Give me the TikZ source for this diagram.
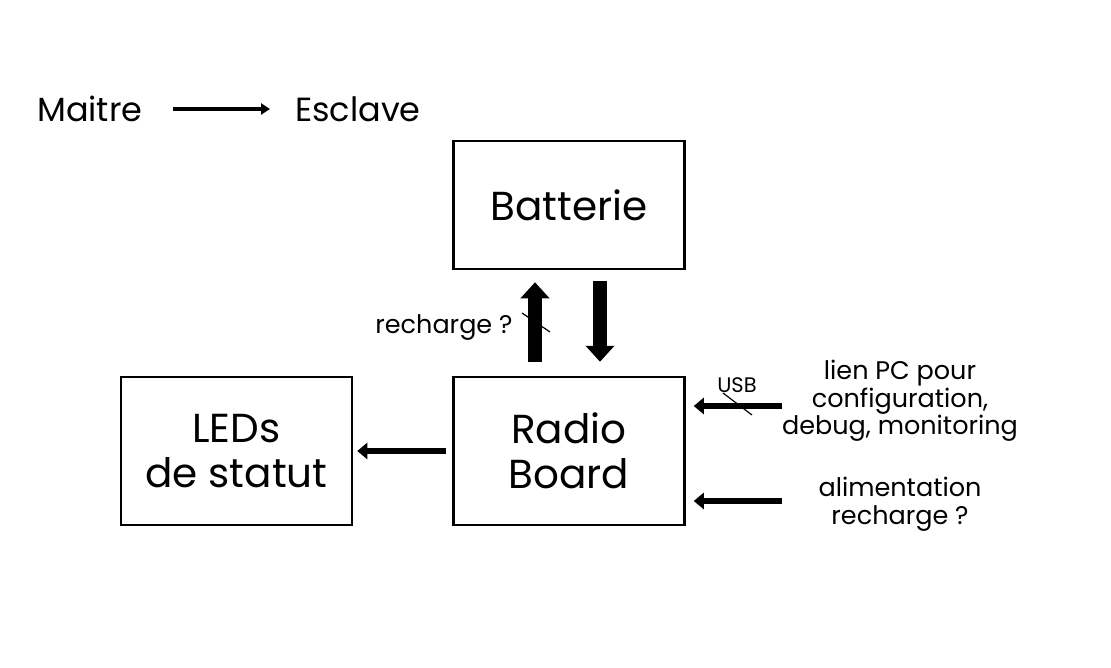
\documentclass[tikz,border=0pt]{standalone}
\usepackage{fontspec}
\setmainfont{Poppins}
\usetikzlibrary{
  arrows.meta,
  positioning,
}
\tikzset{
  bloc/.style={rectangle,draw,line width=2.5pt,minimum width=231,minimum height=148,align=center,font=\fontsize{40.5}{45}\selectfont},
  grosse/.style={-{Triangle[width=28pt,length=16pt]},line width=14pt},
  fleche/.style={-{Triangle[width=16pt,length=10pt]},line width=5.5pt},
  legende/.style={-{Triangle[width=11pt,length=9pt]},line width=4pt},
  petit/.style={align=center,font=\fontsize{25.5}{27.5}\selectfont},
}

\begin{document}
\begin{tikzpicture}[x=1pt,y=-1pt,node distance=106 and 99]
        \useasboundingbox (0,0) rectangle (1111,667);

        % legende
        \node[anchor=west,inner sep=0,font=\fontsize{33.5}{36}\selectfont] (maitre) at (37,109) {Maitre};
        \node[anchor=west,inner sep=0,font=\fontsize{33.5}{36}\selectfont] (esclave) at (295,109) {Esclave};
        \draw[legende,shorten <=30,shorten >=25] (maitre.east) -- (esclave.west);

        % blocs
        \node[bloc,minimum height=128] (batterie) at (569,205) {Batterie};
        \node[bloc] (radio) at (569,451) {Radio\\Board};
        \node[bloc] (leds) [left=of radio] {LEDs\\de statut};

        \draw[grosse,shorten <=14,shorten >=12] ([xshift=-34]radio.north) -- ([xshift=-34]batterie.south);
        \draw[grosse,shorten <=11,shorten >=14] ([xshift=31]batterie.south) -- ([xshift=31]radio.north);
        \node[petit,anchor=east] (recharge) at (516,328) {recharge ?};
        \draw[line width=1.2pt] (522,313) -- (550,332);

        \draw[fleche,shorten <=6,shorten >=4] (radio.west) -- (leds.east);

        % entrees
        \coordinate (usbin) at (782,406);
        \coordinate (alimin) at (782,501);
        \draw[fleche,shorten >=8] (usbin) -- (radio.east |- usbin);
        \draw[fleche,shorten >=8] (alimin) -- (radio.east |- alimin);
        \node[font=\fontsize{21}{22}\selectfont] (usb) at (737,385) {USB};
        \draw[line width=1.2pt] (723,393) -- (752,415);
        \node[petit] (lienpc) at (900,401) {lien PC pour\\configuration,\\debug, monitoring};
        \node[petit] (alim) at (900,504) {alimentation\\recharge ?};

      \end{tikzpicture}
\end{document}
